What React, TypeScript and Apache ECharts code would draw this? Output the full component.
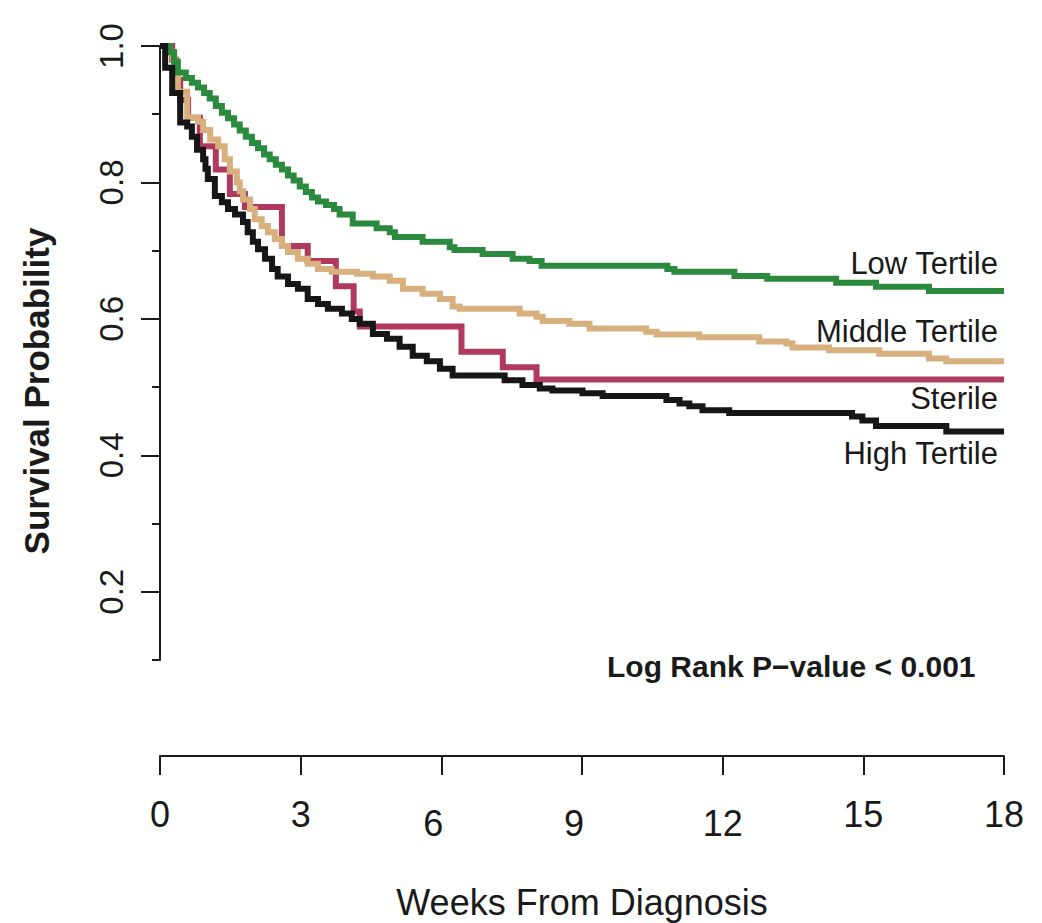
import React, { useEffect, useRef } from "react";
import * as echarts from "echarts";

// ---- data: [weeks from diagnosis, survival probability] (Kaplan–Meier steps) ----
const lowTertile: [number, number][] = [
  [0, 1], [0.21, 0.991], [0.3, 0.977], [0.38, 0.961], [0.55, 0.953], [0.68, 0.946], [0.81, 0.939],
  [0.94, 0.931], [1.06, 0.923], [1.19, 0.912], [1.32, 0.902], [1.45, 0.894], [1.58, 0.885],
  [1.7, 0.876], [1.83, 0.867], [1.96, 0.858], [2.09, 0.85], [2.22, 0.841], [2.34, 0.834],
  [2.47, 0.826], [2.6, 0.819], [2.73, 0.81], [2.85, 0.803], [2.98, 0.794], [3.11, 0.786],
  [3.24, 0.778], [3.37, 0.772], [3.54, 0.767], [3.71, 0.761], [3.83, 0.753], [4.11, 0.74],
  [4.62, 0.733], [4.9, 0.727], [5.01, 0.72], [5.6, 0.713], [6.18, 0.705], [6.28, 0.701],
  [6.88, 0.695], [7.52, 0.688], [7.88, 0.685], [8.14, 0.678], [10.82, 0.673], [10.97, 0.669],
  [12.25, 0.663], [12.95, 0.659], [14.42, 0.653], [15.27, 0.647], [16.4, 0.641], [18, 0.641],
];

const middleTertile: [number, number][] = [
  [0, 1], [0.21, 0.99], [0.28, 0.98], [0.32, 0.969], [0.38, 0.933], [0.58, 0.895], [0.81, 0.889],
  [0.92, 0.877], [1.07, 0.863], [1.24, 0.853], [1.38, 0.834], [1.49, 0.816], [1.64, 0.8],
  [1.7, 0.787], [1.77, 0.775], [1.92, 0.761], [2.02, 0.746], [2.17, 0.736], [2.3, 0.727],
  [2.45, 0.717], [2.6, 0.707], [2.73, 0.698], [2.94, 0.688], [3.15, 0.681], [3.37, 0.673],
  [3.66, 0.669], [4.2, 0.666], [4.54, 0.662], [4.9, 0.656], [5.18, 0.644], [5.6, 0.637],
  [5.97, 0.629], [6.24, 0.618], [6.39, 0.615], [7.67, 0.608], [8.03, 0.603], [8.16, 0.597],
  [8.73, 0.593], [9.16, 0.586], [10.37, 0.581], [10.59, 0.577], [11.5, 0.573], [12.78, 0.567],
  [13.36, 0.564], [13.49, 0.558], [14.27, 0.554], [15.34, 0.549], [16.4, 0.542], [16.77, 0.538],
  [18, 0.538],
];

const sterile: [number, number][] = [
  [0, 1], [0.26, 0.98], [0.34, 0.95], [0.43, 0.921], [0.6, 0.895], [0.85, 0.853], [1.19, 0.819],
  [1.49, 0.783], [1.81, 0.764], [2.6, 0.707], [3.15, 0.685], [3.75, 0.648], [4.13, 0.611],
  [4.26, 0.589], [6.43, 0.552], [7.31, 0.529], [8.03, 0.511], [18, 0.511],
];

const highTertile: [number, number][] = [
  [0, 1], [0.11, 0.968], [0.26, 0.931], [0.43, 0.888], [0.58, 0.882], [0.68, 0.867], [0.79, 0.848],
  [0.92, 0.834], [0.97, 0.82], [1.02, 0.805], [1.17, 0.78], [1.32, 0.771], [1.45, 0.761],
  [1.6, 0.753], [1.77, 0.742], [1.87, 0.727], [1.98, 0.713], [2.09, 0.702], [2.24, 0.688],
  [2.39, 0.673], [2.51, 0.662], [2.73, 0.651], [2.94, 0.644], [3.15, 0.629], [3.37, 0.622],
  [3.58, 0.615], [3.88, 0.608], [4.09, 0.6], [4.26, 0.593], [4.54, 0.578], [4.84, 0.571],
  [5.11, 0.559], [5.39, 0.546], [5.69, 0.538], [5.97, 0.527], [6.24, 0.517], [7.35, 0.51],
  [7.73, 0.503], [8.1, 0.498], [8.37, 0.495], [9.01, 0.491], [9.44, 0.487], [10.8, 0.481],
  [11.08, 0.476], [11.29, 0.472], [11.57, 0.466], [12.14, 0.462], [14.76, 0.457], [14.98, 0.451],
  [15.27, 0.443], [16.77, 0.435], [18, 0.435],
];

const seriesNames = ["Sterile", "Middle Tertile", "Low Tertile", "High Tertile"];
const xTickValues = [0, 3, 6, 9, 12, 15, 18];
const yLabelValues = [0.2, 0.4, 0.6, 0.8, 1.0];
const yMinorValues = [0.1, 0.3, 0.5, 0.7, 0.9];
const xAxisTitle = "Weeks From Diagnosis";
const yAxisTitle = "Survival Probability";
const pValueText = "Log Rank P\u2212value < 0.001";

const FONT = '"Liberation Sans", Arial, Helvetica, sans-serif';
const INK = "#1a1a1a";

export default function App() {
  const ref = useRef<HTMLDivElement>(null);

  useEffect(() => {
    document.body.style.margin = "0";
    if (!ref.current) return;
    const chart = echarts.init(ref.current, undefined, { renderer: "svg" });

    const mkSeries = (name: string, data: [number, number][], color: string, z: number) => ({
      name,
      type: "line",
      step: "end",
      data,
      symbol: "none",
      clip: false,
      z,
      lineStyle: { color, width: 6, cap: "butt", join: "miter" },
    });

    const tickFont = 36;

    const option: any = {
      animation: false,
      backgroundColor: "#ffffff",
      textStyle: { fontFamily: FONT, color: INK },
      grid: { left: 160, right: 38, top: 46, bottom: 263, containLabel: false, outerBoundsMode: "none" },
      xAxis: {
        type: "value",
        min: 0,
        max: 18,
        interval: 3,
        offset: 96,
        axisLine: { show: true, lineStyle: { color: INK, width: 2 } },
        axisTick: { show: true, length: 19, lineStyle: { color: INK, width: 2 } },
        splitLine: { show: false },
        axisLabel: {
          margin: 40,
          fontSize: tickFont,
          fontFamily: FONT,
          color: INK,
          formatter: (v: number) => {
            if (v === 6 || v === 9) return `{s|${v}}`;
            if (v === 12) return `{d|${v}}`;
            return `{n|${v}}`;
          },
          rich: {
            n: { fontSize: tickFont, fontFamily: FONT, color: INK },
            s: { fontSize: tickFont, fontFamily: FONT, color: INK, padding: [9, 16, 0, 0] },
            d: { fontSize: tickFont, fontFamily: FONT, color: INK, padding: [9, 0, 0, 0] },
          },
          customValues: xTickValues,
        },
        name: xAxisTitle,
        nameLocation: "middle",
        nameGap: 128,
        nameTextStyle: { fontSize: 36, fontFamily: FONT, color: INK },
      },
      yAxis: [
        {
          type: "value",
          min: 0.1,
          max: 1.0,
          position: "left",
          axisLine: { show: true, lineStyle: { color: INK, width: 2 } },
          axisTick: { show: true, length: 19, lineStyle: { color: INK, width: 2 }, customValues: yLabelValues },
          axisLabel: {
            show: true,
            rotate: 90,
            margin: 32,
            fontSize: 33,
            fontFamily: FONT,
            color: INK,
            customValues: yLabelValues,
            formatter: (v: number) => v.toFixed(1),
          },
          splitLine: { show: false },
        },
        {
          type: "value",
          min: 0.1,
          max: 1.0,
          position: "left",
          axisLine: { show: false },
          axisTick: { show: true, length: 8, lineStyle: { color: INK, width: 2 }, customValues: yMinorValues },
          axisLabel: { show: false },
          splitLine: { show: false },
        },
      ],
      series: [
        mkSeries(seriesNames[0], sterile, "#b03a5e", 2),
        mkSeries(seriesNames[1], middleTertile, "#d8b07e", 3),
        mkSeries(seriesNames[2], lowTertile, "#2b8a3e", 4),
        mkSeries(seriesNames[3], highTertile, "#161616", 5),
      ],
      graphic: [
        {
          type: "text",
          x: 36,
          y: 391,
          rotation: Math.PI / 2,
          style: { text: yAxisTitle, fontSize: 35, fontWeight: "bold", fontFamily: FONT, fill: INK, align: "center", verticalAlign: "middle" },
        },
        {
          type: "text",
          x: 607,
          y: 666,
          style: { text: pValueText, fontSize: 30, fontWeight: "bold", fontFamily: FONT, fill: INK, align: "left", verticalAlign: "middle" },
        },
        {
          type: "text",
          x: 998,
          y: 263,
          style: { text: "Low Tertile", fontSize: 31, fontFamily: FONT, fill: INK, align: "right", verticalAlign: "middle" },
        },
        {
          type: "text",
          x: 998,
          y: 331,
          style: { text: "Middle Tertile", fontSize: 31, fontFamily: FONT, fill: INK, align: "right", verticalAlign: "middle" },
        },
        {
          type: "text",
          x: 998,
          y: 398,
          style: { text: "Sterile", fontSize: 31, fontFamily: FONT, fill: INK, align: "right", verticalAlign: "middle" },
        },
        {
          type: "text",
          x: 998,
          y: 453,
          style: { text: "High Tertile", fontSize: 31, fontFamily: FONT, fill: INK, align: "right", verticalAlign: "middle" },
        },
      ],
    };

    chart.setOption(option);
    return () => chart.dispose();
  }, []);

  return <div ref={ref} style={{ width: 1042, height: 923 }} />;
}
